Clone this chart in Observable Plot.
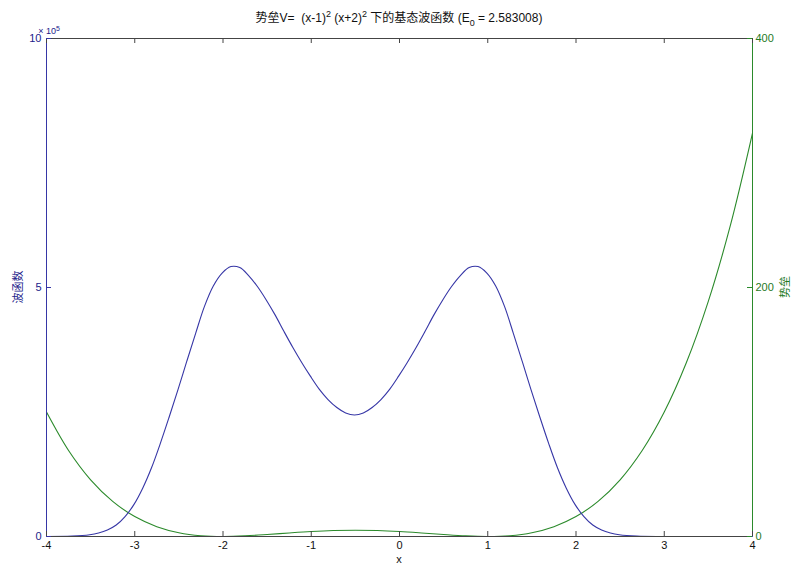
<!DOCTYPE html>
<html><head><meta charset="utf-8">
<script src="https://cdn.jsdelivr.net/npm/d3@7"></script>
<script src="https://cdn.jsdelivr.net/npm/@observablehq/plot@0.6"></script>
<style>body{margin:0;background:#fff} svg{display:block}</style>
</head><body><div id="chart"></div>
<script>
// wavefunction (units of 1e5)
const psiX = [-4.00, -3.71, -3.51, -3.41, -3.31, -3.21, -3.11, -3.01, -2.91, -2.81, -2.71, -2.61, -2.51, -2.41, -2.31, -2.21, -2.11, -2.01, -1.91, -1.81, -1.71, -1.61, -1.51, -1.41, -1.31, -1.21, -1.11, -1.01, -0.91, -0.81, -0.71, -0.61, -0.51, -0.41, -0.31, -0.21, -0.11, -0.01, 0.09, 0.19, 0.29, 0.39, 0.49, 0.59, 0.69, 0.79, 0.89, 0.99, 1.09, 1.19, 1.29, 1.39, 1.49, 1.59, 1.69, 1.79, 1.89, 1.99, 2.09, 2.19, 2.29, 2.39, 2.49, 2.69, 2.98, 3.5, 4.0];
const psiY = [0, 0.008, 0.035, 0.07, 0.13, 0.23, 0.40, 0.64, 0.97, 1.38, 1.87, 2.40, 2.95, 3.52, 4.08, 4.62, 5.03, 5.29, 5.42, 5.40, 5.24, 5.02, 4.75, 4.45, 4.12, 3.80, 3.50, 3.22, 2.96, 2.75, 2.59, 2.48, 2.44, 2.48, 2.59, 2.75, 2.96, 3.22, 3.50, 3.80, 4.12, 4.45, 4.75, 5.02, 5.24, 5.40, 5.42, 5.29, 5.03, 4.62, 4.08, 3.52, 2.95, 2.40, 1.87, 1.38, 0.97, 0.64, 0.40, 0.23, 0.13, 0.07, 0.035, 0.008, 0, 0, 0];
// potential barrier values
const potX = [-4, -3.75, -3.5, -3.25, -3, -2.75, -2.5, -2.25, -2, -1.75, -1.5, -1.25, -1, -0.75, -0.5, -0.25, 0, 0.25, 0.5, 0.75, 1, 1.25, 1.5, 1.75, 2, 2.25, 2.5, 2.75, 3, 3.25, 3.5, 3.75, 4];
const potV = [100, 69.1, 45.56, 28.22, 16, 7.91, 3.06, 0.66, 0, 0.47, 1.56, 2.85, 4, 4.79, 5.06, 4.79, 4, 2.85, 1.56, 0.47, 0, 0.66, 3.06, 7.91, 16, 28.22, 45.56, 69.1, 100, 139.54, 189.06, 250.04, 324];
const xTicks = [-4, -3, -2, -1, 0, 1, 2, 3, 4];
const leftTicks = [0, 5, 10];
const rightTicks = [0, 200, 400];
const rightMax = 400, leftMax = 10;

const BLUE = "#3636a6", BLUE_T = "#22228a", GREEN = "#2b8a2b", GREEN_T = "#1f7a1f", GREY = "#444";
const psi = psiX.map((x, i) => ({x, y: psiY[i]}));
const pot = potX.map((x, i) => ({x, y: potV[i] * leftMax / rightMax}));
const W = 795, H = 569, ML = 46, MR = 43, MT = 38, MB = 33;
const fw = W - ML - MR, fh = H - MT - MB;

const plot = Plot.plot({
  width: W, height: H,
  marginLeft: ML, marginRight: MR, marginTop: MT, marginBottom: MB,
  style: {fontFamily: "'Liberation Sans', Arial, sans-serif", fontSize: "11px", background: "#fff"},
  x: {domain: [-4, 4]},
  y: {domain: [0, leftMax]},
  marks: [
    Plot.line(pot, {x: "x", y: "y", stroke: GREEN, strokeWidth: 1.1, curve: "catmull-rom"}),
    Plot.line(psi, {x: "x", y: "y", stroke: BLUE, strokeWidth: 1.1, curve: "catmull-rom"}),
    Plot.ruleY([0], {stroke: GREY}),
    Plot.ruleY([leftMax], {stroke: GREY}),
    Plot.ruleX([-4], {stroke: BLUE}),
    Plot.ruleX([4], {stroke: GREEN}),
    Plot.tickX(xTicks, {x: d => d, stroke: GREY, insetTop: fh - 5}),
    Plot.tickX(xTicks, {x: d => d, stroke: GREY, insetBottom: fh - 5}),
    Plot.tickY(leftTicks, {y: d => d, stroke: BLUE, insetRight: fw - 5}),
    Plot.tickY(rightTicks.map(t => t * leftMax / rightMax), {y: d => d, stroke: GREEN, insetLeft: fw - 5}),
    Plot.axisX({ticks: xTicks, tickSize: 0, tickPadding: 5, tickFormat: d => String(d), color: "#111", label: null}),
    Plot.axisY({anchor: "left", ticks: leftTicks, tickSize: 0, tickPadding: 5, tickFormat: d => String(d), color: BLUE_T, label: null}),
    Plot.axisY({anchor: "right", ticks: rightTicks.map(t => t * leftMax / rightMax), tickSize: 0, tickPadding: 3, tickFormat: d => String(Math.round(d * rightMax / leftMax)), color: GREEN_T, label: null})
  ]
});
document.getElementById("chart").appendChild(plot);

const svg = d3.select(plot);
const cjk = "'Liberation Sans', 'Noto Sans CJK SC', sans-serif";
// title
const t = svg.append("text").attr("x", 399).attr("y", 22).attr("text-anchor", "middle")
  .attr("font-family", cjk).attr("font-size", 12).attr("fill", "#111");
t.append("tspan").text("势垒V=  (x-1)");
t.append("tspan").attr("dy", -5).attr("font-size", 9).text("2");
t.append("tspan").attr("dy", 5).text(" (x+2)");
t.append("tspan").attr("dy", -5).attr("font-size", 9).text("2");
t.append("tspan").attr("dy", 5).text(" 下的基态波函数 (E");
t.append("tspan").attr("dy", 4).attr("font-size", 9).text("0");
t.append("tspan").attr("dy", -4).text(" = 2.583008)");
// exponent
const e = svg.append("text").attr("x", 49).attr("y", 34).attr("font-family", cjk).attr("font-size", 9).attr("fill", BLUE_T);
e.append("tspan").text("× 10");
e.append("tspan").attr("dy", -3).attr("font-size", 7).text("5");
// axis labels
svg.append("text").attr("x", 399).attr("y", 563).attr("text-anchor", "middle")
  .attr("font-family", cjk).attr("font-size", 11).attr("fill", "#111").text("x");
svg.append("text").attr("transform", "translate(22,287) rotate(-90)").attr("text-anchor", "middle")
  .attr("font-family", cjk).attr("font-size", 11).attr("fill", BLUE_T).text("波函数");
svg.append("text").attr("transform", "translate(789,287) rotate(-90)").attr("text-anchor", "middle")
  .attr("font-family", cjk).attr("font-size", 11).attr("fill", GREEN_T).text("势垒");
</script>
</body></html>
